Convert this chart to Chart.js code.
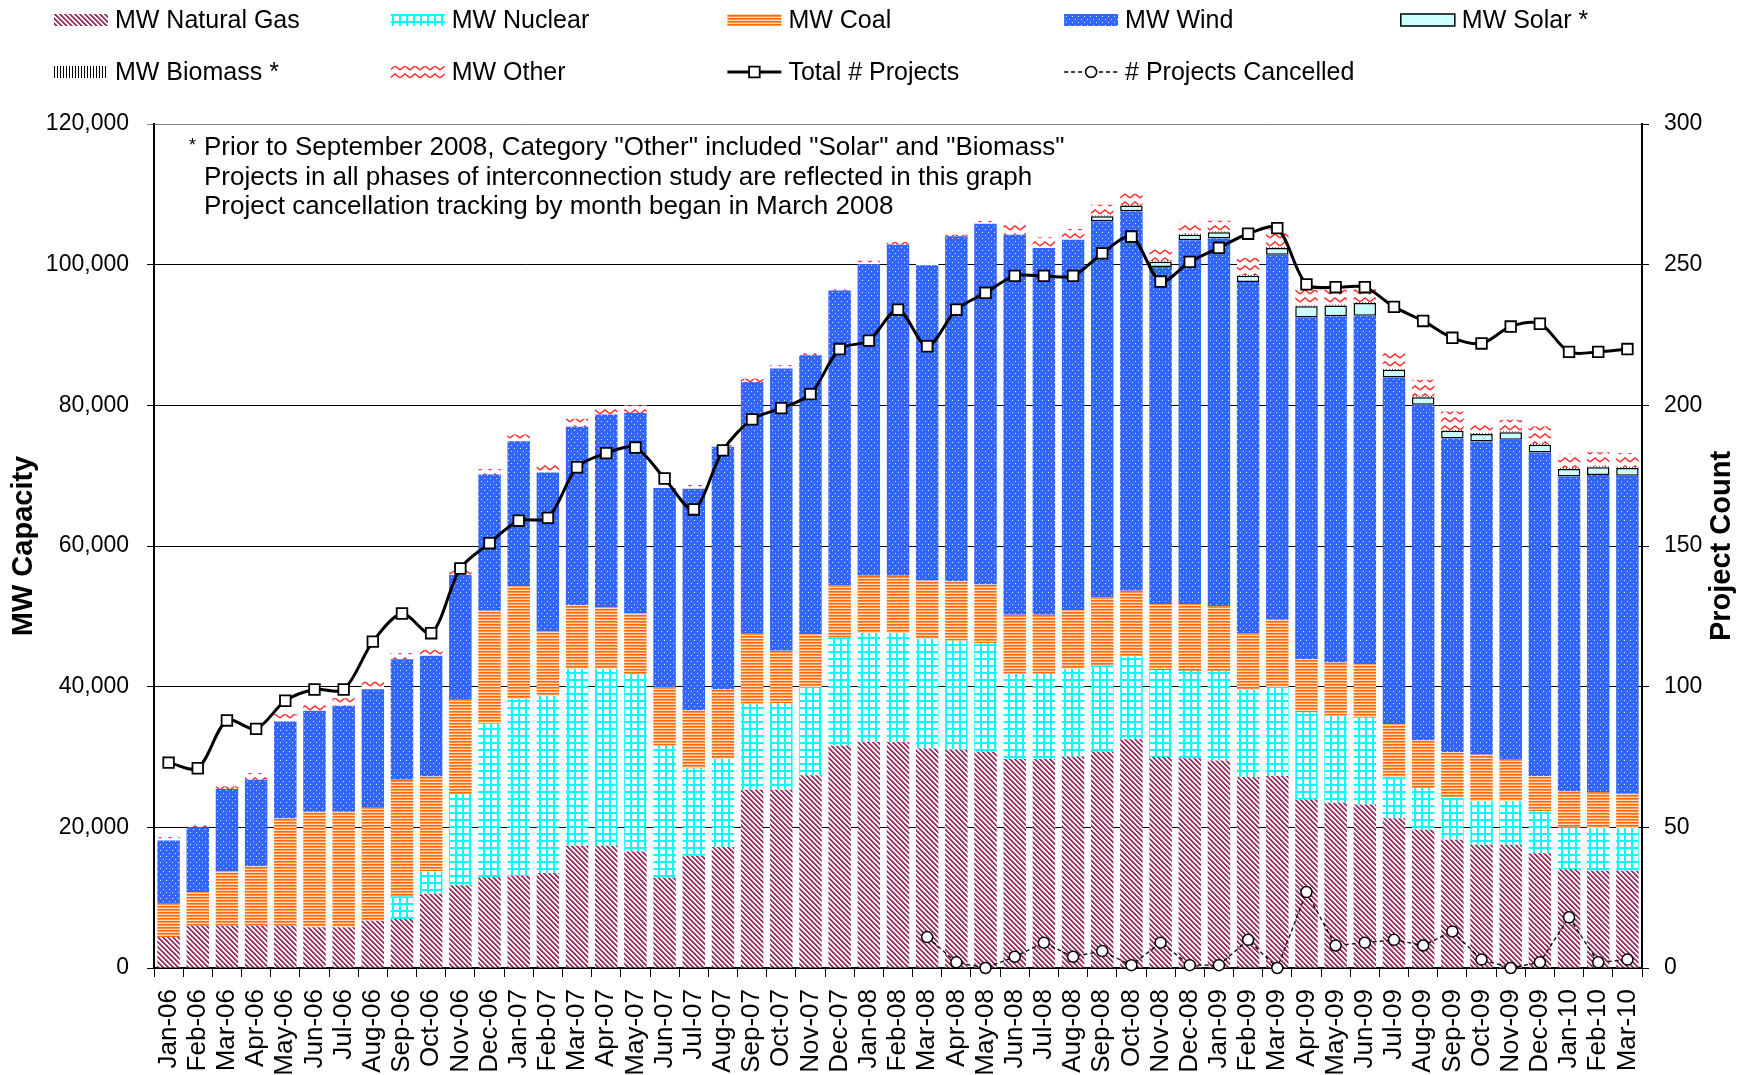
<!DOCTYPE html>
<html>
<head>
<meta charset="utf-8">
<title>Interconnection queue by fuel type</title>
<script src="https://cdn.jsdelivr.net/npm/chart.js@4.4.1/dist/chart.umd.min.js"></script>
<style>
  html, body { margin: 0; padding: 0; background: #fff; }
  #wrap { width: 1750px; height: 1075px; }
</style>
</head>
<body>
<div id="wrap"><canvas id="queue-chart" width="1750" height="1075"></canvas></div>
<script>
// Month labels for the x axis
const months = [
    'Jan-06', 'Feb-06', 'Mar-06', 'Apr-06', 'May-06', 'Jun-06', 'Jul-06', 'Aug-06', 'Sep-06', 'Oct-06', 'Nov-06', 'Dec-06',
    'Jan-07', 'Feb-07', 'Mar-07', 'Apr-07', 'May-07', 'Jun-07', 'Jul-07', 'Aug-07', 'Sep-07', 'Oct-07', 'Nov-07', 'Dec-07',
    'Jan-08', 'Feb-08', 'Mar-08', 'Apr-08', 'May-08', 'Jun-08', 'Jul-08', 'Aug-08', 'Sep-08', 'Oct-08', 'Nov-08', 'Dec-08',
    'Jan-09', 'Feb-09', 'Mar-09', 'Apr-09', 'May-09', 'Jun-09', 'Jul-09', 'Aug-09', 'Sep-09', 'Oct-09', 'Nov-09', 'Dec-09',
    'Jan-10', 'Feb-10', 'Mar-10'
];

// MW by fuel type (each is the height of its own segment in the stack)
const naturalGas = [4400, 6000, 6000, 6000, 6000, 5780, 5780, 6730, 6960, 10560, 11750, 12890,
    13120, 13500, 17390, 17380, 16560, 12870, 15960, 17210, 25360, 25360, 27420, 31600,
    32150, 32150, 31220, 31060, 30790, 29700, 29700, 30080, 30790, 32530, 30000, 29840,
    29520, 27140, 27300, 23950, 23480, 23240, 21290, 19670, 18240, 17520, 17520, 16330,
    14050, 13810, 13810];
const nuclear = [0, 0, 0, 0, 0, 0, 0, 0, 3230, 3180, 12980, 21830,
    25110, 25200, 25100, 25080, 25200, 18730, 12390, 12490, 12220, 12320, 12440, 15370,
    15470, 15470, 15590, 15480, 15420, 12220, 12220, 12380, 12210, 11750, 12370, 12370,
    12690, 12380, 12530, 12380, 12380, 12330, 5850, 5900, 5950, 6200, 6200, 5960,
    5950, 6050, 6050];
const coal = [4840, 4800, 7740, 8450, 15270, 16440, 16440, 16150, 16570, 13500, 13500, 16060,
    16050, 9230, 9090, 8850, 8690, 8310, 8300, 9890, 10040, 7440, 7600, 7440,
    8150, 8150, 8300, 8460, 8310, 8310, 8310, 8420, 9690, 9360, 9370, 9530,
    9210, 8090, 9690, 7580, 7570, 7620, 7530, 6810, 6530, 6610, 5900, 5000,
    5100, 5140, 4900];
const wind = [8900, 9190, 11700, 12310, 13780, 14350, 15060, 16770, 17150, 17150, 17630, 19370,
    20630, 22530, 25390, 27370, 28450, 28350, 31500, 34530, 35700, 40100, 39670, 41920,
    44280, 47070, 44790, 49030, 51310, 54030, 52140, 52670, 53470, 53950, 47930, 51720,
    52330, 49920, 51900, 48590, 49220, 49550, 49290, 47690, 44560, 44520, 45470, 46000,
    44770, 45110, 45240];
const solar = [0, 0, 0, 0, 0, 0, 0, 0, 0, 0, 0, 0,
    0, 0, 0, 0, 0, 0, 0, 0, 0, 0, 0, 0,
    0, 0, 0, 0, 0, 0, 0, 0, 710, 810, 760, 810,
    850, 900, 950, 1570, 1560, 1800, 1090, 1090, 1090, 1090, 1090, 1090,
    1090, 1090, 1100];
const biomass = [0, 0, 0, 0, 0, 0, 0, 0, 0, 0, 0, 0,
    0, 0, 0, 0, 0, 0, 0, 0, 0, 0, 0, 0,
    0, 0, 0, 0, 0, 0, 0, 0, 100, 100, 100, 100,
    100, 100, 100, 100, 100, 100, 100, 100, 100, 100, 100, 100,
    100, 100, 100];
const other = [460, 330, 380, 950, 1050, 950, 1090, 1090, 860, 850, 640, 790,
    950, 1110, 1110, 1090, 1080, 210, 540, 220, 480, 480, 470, 470,
    520, 380, 430, 230, 380, 1800, 1510, 1520, 1560, 1610, 1610, 1700,
    1560, 2420, 2510, 2270, 2130, 2130, 2370, 2370, 2650, 1420, 1660, 2510,
    2040, 2030, 2000];

// Project counts (right axis)
const totalProjects = [73, 71, 88, 85, 95, 99, 99, 116, 126, 119, 142, 151,
    159, 160, 178, 183, 185, 174, 163, 184, 195, 199, 204, 220,
    223, 234, 221, 234, 240, 246, 246, 246, 254, 260, 244, 251,
    256, 261, 263, 243, 242, 242, 235, 230, 224, 222, 228, 229,
    219, 219, 220];
// cancellation tracking began in March 2008
const cancelledProjects = [null, null, null, null, null, null, null, null, null, null, null, null,
    null, null, null, null, null, null, null, null, null, null, null, null,
    null, null, 11, 2, 0, 4, 9, 4, 6, 1, 9, 1,
    1, 10, 0, 27, 8, 9, 10, 8, 13, 3, 0, 2,
    18, 2, 3];

const noteLines = [
    'Prior to September 2008, Category "Other" included "Solar" and "Biomass"',
    'Projects in all phases of interconnection study are reflected in this graph',
    'Project cancellation tracking by month began in March 2008'
];

const FONT = '"Liberation Sans", Arial, Helvetica, sans-serif';
Chart.defaults.font.family = FONT;
Chart.defaults.color = '#000';

const canvas = document.getElementById('queue-chart');
const ctx = canvas.getContext('2d');

// --- fill patterns, Excel style ---
function makePattern(w, h, paint) {
    const c = document.createElement('canvas');
    c.width = w;
    c.height = h;
    const g = c.getContext('2d');
    g.fillStyle = '#fff';
    g.fillRect(0, 0, w, h);
    paint(g, w, h);
    return ctx.createPattern(c, 'repeat');
}

const gasFill = makePattern(5, 5, (g, w, h) => {
    for (let y = 0; y < h; y++) {
        for (let x = 0; x < w; x++) {
            const d = ((x - y) % 5 + 5) % 5;
            if (d < 2) { g.fillStyle = '#993366'; g.fillRect(x, y, 1, 1); }
            else if (d === 2) { g.fillStyle = '#c48aa8'; g.fillRect(x, y, 1, 1); }
        }
    }
});
const nuclearFill = makePattern(7, 7, (g) => {
    g.fillStyle = '#00ffff';
    g.fillRect(0, 0, 7, 2);
    g.fillRect(0, 0, 2, 7);
});
const coalFill = makePattern(4, 3, (g) => {
    g.fillStyle = '#ff6a00'; g.fillRect(0, 0, 4, 1);
    g.fillStyle = '#ff9347'; g.fillRect(0, 1, 4, 1);
    g.fillStyle = '#ffdcc2'; g.fillRect(0, 2, 4, 1);
});
const windFill = makePattern(6, 6, (g) => {
    g.fillStyle = '#3366ff';
    g.fillRect(0, 0, 6, 6);
    g.fillStyle = '#dbe4ff';
    g.fillRect(1, 1, 1, 1);
    g.fillRect(4, 4, 1, 1);
});
const biomassFill = makePattern(3, 1, (g) => {
    g.fillStyle = '#000';
    g.fillRect(0, 0, 1, 1);
});
const otherFill = makePattern(10, 8, (g) => {
    g.strokeStyle = '#ff2a2a';
    g.lineWidth = 1.5;
    g.beginPath();
    g.moveTo(0, 6);
    g.lineTo(5, 2);
    g.lineTo(10, 6);
    g.stroke();
});

function barSet(label, data, fill, extra) {
    return Object.assign({
        type: 'bar',
        label: label,
        data: data,
        backgroundColor: fill,
        borderWidth: 0,
        yAxisID: 'y',
        stack: 'mw',
        order: 1,
        barPercentage: 0.77,
        categoryPercentage: 1.0
    }, extra || {});
}

// legend drawn by hand: two rows, five fixed columns
const legendPlugin = {
    id: 'excelLegend',
    afterDraw(chart) {
        const c = chart.ctx;
        chart.data.datasets.forEach((ds, i) => {
            const col = i < 5 ? i : i - 5;
            const row = i < 5 ? 0 : 1;
            const x = 54 + col * 336.7;
            const y = row === 0 ? 20 : 72;
            c.save();
            if (ds.type === 'line') {
                c.strokeStyle = '#000';
                c.lineWidth = ds.borderWidth;
                c.setLineDash(ds.borderDash || []);
                c.beginPath();
                c.moveTo(x, y);
                c.lineTo(x + 54, y);
                c.stroke();
                c.setLineDash([]);
                c.fillStyle = '#fff';
                c.lineWidth = ds.pointBorderWidth;
                Chart.helpers.drawPoint(c, {
                    pointStyle: ds.pointStyle, rotation: 0,
                    radius: ds.pointRadius, borderWidth: ds.pointBorderWidth
                }, x + 27, y);
            } else {
                c.fillStyle = ds.backgroundColor;
                c.fillRect(x, y - 6, 54, 12);
                if (ds.borderWidth) {
                    c.strokeStyle = '#000';
                    c.lineWidth = 1.5;
                    c.strokeRect(x, y - 6, 54, 12);
                }
            }
            c.fillStyle = '#000';
            c.font = '25px ' + FONT;
            c.textBaseline = 'middle';
            c.textAlign = 'left';
            c.fillText(ds.label, x + 61, y + 1);
            c.restore();
        });
    }
};

const notePlugin = {
    id: 'notes',
    afterDraw(chart) {
        const c = chart.ctx;
        c.save();
        c.fillStyle = '#000';
        c.textBaseline = 'middle';
        c.textAlign = 'left';
        c.font = '18px ' + FONT;
        c.fillText('*', 189, 146);
        c.font = '26px ' + FONT;
        noteLines.forEach((line, i) => c.fillText(line, 204, 148 + i * 29.5));
        // right axis title reads bottom-to-top like the left one
        c.font = 'bold 29px ' + FONT;
        c.textAlign = 'center';
        c.translate(1722, (chart.chartArea.top + chart.chartArea.bottom) / 2);
        c.rotate(-Math.PI / 2);
        c.fillText('Project Count', 0, 0);
        c.restore();
    }
};

new Chart(ctx, {
    data: {
        labels: months,
        datasets: [
            barSet('MW Natural Gas', naturalGas, gasFill),
            barSet('MW Nuclear', nuclear, nuclearFill),
            barSet('MW Coal', coal, coalFill),
            barSet('MW Wind', wind, windFill),
            barSet('MW Solar *', solar, '#ccffff', { borderWidth: 1.5, borderColor: '#000', borderSkipped: false }),
            barSet('MW Biomass *', biomass, biomassFill),
            barSet('MW Other', other, otherFill),
            {
                type: 'line',
                label: 'Total # Projects',
                data: totalProjects,
                yAxisID: 'y1',
                order: 0,
                borderColor: '#000',
                borderWidth: 3,
                tension: 0.3,
                pointStyle: 'rect',
                pointRadius: 7.5,
                pointBorderWidth: 1.8,
                pointBackgroundColor: '#fff',
                pointBorderColor: '#000',
                clip: false
            },
            {
                type: 'line',
                label: '# Projects Cancelled',
                data: cancelledProjects,
                yAxisID: 'y1',
                order: 0,
                borderColor: '#000',
                borderWidth: 1.3,
                borderDash: [4, 3],
                tension: 0,
                pointStyle: 'circle',
                pointRadius: 5.5,
                pointBorderWidth: 1.5,
                pointBackgroundColor: '#fff',
                pointBorderColor: '#000',
                clip: false
            }
        ]
    },
    options: {
        responsive: false,
        animation: false,
        devicePixelRatio: 1,
        layout: { padding: { top: 124, left: 0, right: 0, bottom: 0 } },
        plugins: {
            legend: { display: false },
            tooltip: { enabled: false }
        },
        scales: {
            x: {
                stacked: true,
                ticks: {
                    font: { size: 26 },
                    color: '#000',
                    minRotation: 90,
                    maxRotation: 90,
                    autoSkip: false,
                    padding: 12
                },
                grid: { drawOnChartArea: false, color: '#000', tickLength: 9, offset: true },
                border: { color: '#000', width: 2 },
                afterFit: (s) => { s.height = 107; }
            },
            y: {
                stacked: true,
                min: 0,
                max: 120000,
                ticks: { stepSize: 20000, font: { size: 23 }, color: '#000', padding: 18 },
                grid: {
                    color: (c) => (c.tick && c.tick.value === 120000 ? '#808080' : '#000'),
                    lineWidth: 1,
                    tickLength: 7
                },
                border: { color: '#000', width: 2 },
                title: {
                    display: true,
                    text: 'MW Capacity',
                    font: { size: 29, weight: 'bold' },
                    color: '#000',
                    padding: { top: 7, bottom: 0 }
                },
                afterFit: (s) => { s.width = 154; }
            },
            y1: {
                position: 'right',
                min: 0,
                max: 300,
                ticks: { stepSize: 50, font: { size: 23 }, color: '#000', padding: 15 },
                grid: { drawOnChartArea: false, color: '#000', tickLength: 7 },
                border: { color: '#000', width: 2 },
                afterFit: (s) => { s.width = 108; }
            }
        }
    },
    plugins: [legendPlugin, notePlugin]
});
</script>
</body>
</html>
